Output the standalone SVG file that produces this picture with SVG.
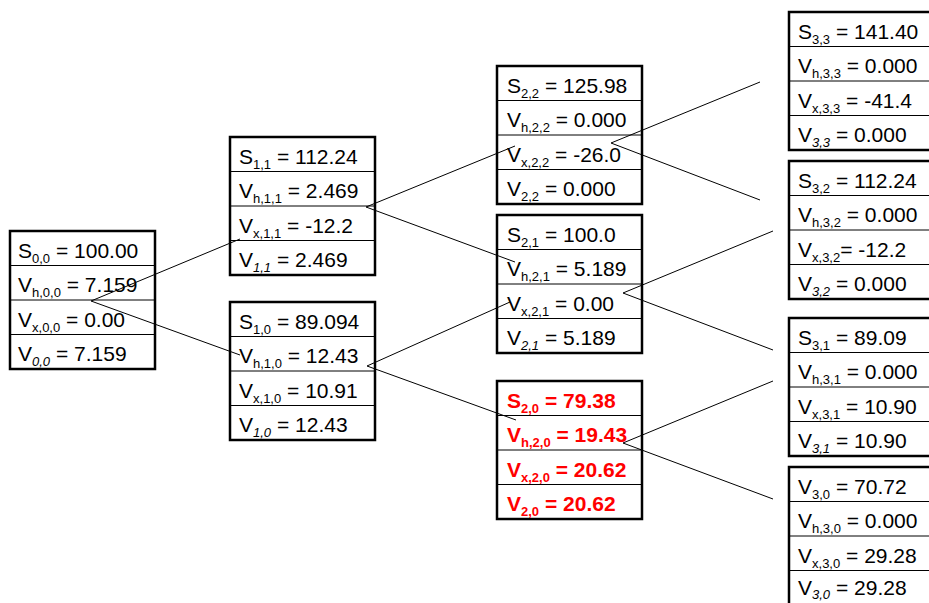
<svg xmlns="http://www.w3.org/2000/svg" width="929" height="603" viewBox="0 0 929 603">
<style>
.box{fill:#fff;stroke:#000;stroke-width:2.5}
.row{stroke:#000;stroke-width:1}
.t{font-family:"Liberation Sans",Arial,Helvetica,sans-serif;font-size:21px;fill:#000}
.r{fill:#ff0000;font-weight:bold}
.s{font-size:13px}
.i{font-style:italic}
.c line{stroke:#000;stroke-width:1}
</style>
<rect width="929" height="603" fill="#fff"/>
<defs>
<g id="frame">
<rect class="box" x="0" y="0" width="145" height="138"/>
<line class="row" x1="0" y1="34.5" x2="145" y2="34.5"/>
<line class="row" x1="0" y1="69" x2="145" y2="69"/>
<line class="row" x1="0" y1="103.5" x2="145" y2="103.5"/>
</g>
<g id="frameR">
<rect class="box" x="0" y="0" width="160" height="138"/>
<line class="row" x1="0" y1="34.5" x2="160" y2="34.5"/>
<line class="row" x1="0" y1="69" x2="160" y2="69"/>
<line class="row" x1="0" y1="103.5" x2="160" y2="103.5"/>
</g>
</defs>

<g id="n00" transform="translate(10,231)">
<use href="#frame"/>
<text class="t" x="8" y="26.5">S<tspan class="s" dy="5">0,0</tspan><tspan dy="-5"> = 100.00</tspan></text>
<text class="t" x="8" y="61">V<tspan class="s" dy="5">h,0,0</tspan><tspan dy="-5"> = 7.159</tspan></text>
<text class="t" x="8" y="95.5">V<tspan class="s" dy="5">x,0,0</tspan><tspan dy="-5"> = 0.00</tspan></text>
<text class="t" x="8" y="130">V<tspan class="s i" dy="5">0,0</tspan><tspan dy="-5"> = 7.159</tspan></text>
</g>

<g id="n11" transform="translate(230,137)">
<use href="#frame"/>
<text class="t" x="9" y="26.5">S<tspan class="s" dy="5">1,1</tspan><tspan dy="-5"> = 112.24</tspan></text>
<text class="t" x="9" y="61">V<tspan class="s" dy="5">h,1,1</tspan><tspan dy="-5"> = 2.469</tspan></text>
<text class="t" x="9" y="95.5">V<tspan class="s" dy="5">x,1,1</tspan><tspan dy="-5"> = -12.2</tspan></text>
<text class="t" x="9" y="130">V<tspan class="s i" dy="5">1,1</tspan><tspan dy="-5"> = 2.469</tspan></text>
</g>

<g id="n10" transform="translate(230,302)">
<use href="#frame"/>
<text class="t" x="9" y="26.5">S<tspan class="s" dy="5">1,0</tspan><tspan dy="-5"> = 89.094</tspan></text>
<text class="t" x="9" y="61">V<tspan class="s" dy="5">h,1,0</tspan><tspan dy="-5"> = 12.43</tspan></text>
<text class="t" x="9" y="95.5">V<tspan class="s" dy="5">x,1,0</tspan><tspan dy="-5"> = 10.91</tspan></text>
<text class="t" x="9" y="130">V<tspan class="s i" dy="5">1,0</tspan><tspan dy="-5"> = 12.43</tspan></text>
</g>

<g id="n22" transform="translate(497,66)">
<use href="#frame"/>
<text class="t" x="10" y="26.5">S<tspan class="s" dy="5">2,2</tspan><tspan dy="-5"> = 125.98</tspan></text>
<text class="t" x="10" y="61">V<tspan class="s" dy="5">h,2,2</tspan><tspan dy="-5"> = 0.000</tspan></text>
<text class="t" x="10" y="95.5">V<tspan class="s" dy="5">x,2,2</tspan><tspan dy="-5"> = -26.0</tspan></text>
<text class="t" x="10" y="130">V<tspan class="s" dy="5">2,2</tspan><tspan dy="-5"> = 0.000</tspan></text>
</g>

<g id="n21" transform="translate(497,215)">
<use href="#frame"/>
<text class="t" x="10" y="26.5">S<tspan class="s" dy="5">2,1</tspan><tspan dy="-5"> = 100.0</tspan></text>
<text class="t" x="10" y="61">V<tspan class="s" dy="5">h,2,1</tspan><tspan dy="-5"> = 5.189</tspan></text>
<text class="t" x="10" y="95.5">V<tspan class="s" dy="5">x,2,1</tspan><tspan dy="-5"> = 0.00</tspan></text>
<text class="t" x="10" y="130">V<tspan class="s i" dy="5">2,1</tspan><tspan dy="-5"> = 5.189</tspan></text>
</g>

<g id="n20" transform="translate(497,381)">
<use href="#frame"/>
<text class="t r" x="10" y="26.5">S<tspan class="s" dy="5">2,0</tspan><tspan dy="-5"> = 79.38</tspan></text>
<text class="t r" x="10" y="61">V<tspan class="s" dy="5">h,2,0</tspan><tspan dy="-5"> = 19.43</tspan></text>
<text class="t r" x="10" y="95.5">V<tspan class="s" dy="5">x,2,0</tspan><tspan dy="-5"> = 20.62</tspan></text>
<text class="t r" x="10" y="130">V<tspan class="s" dy="5">2,0</tspan><tspan dy="-5"> = 20.62</tspan></text>
</g>

<g id="n33" transform="translate(789,12)">
<use href="#frameR"/>
<text class="t" x="9" y="26.5">S<tspan class="s" dy="5">3,3</tspan><tspan dy="-5"> = 141.40</tspan></text>
<text class="t" x="9" y="61">V<tspan class="s" dy="5">h,3,3</tspan><tspan dy="-5"> = 0.000</tspan></text>
<text class="t" x="9" y="95.5">V<tspan class="s" dy="5">x,3,3</tspan><tspan dy="-5"> = -41.4</tspan></text>
<text class="t" x="9" y="130">V<tspan class="s i" dy="5">3,3</tspan><tspan dy="-5"> = 0.000</tspan></text>
</g>

<g id="n32" transform="translate(789,161)">
<use href="#frameR"/>
<text class="t" x="9" y="26.5">S<tspan class="s" dy="5">3,2</tspan><tspan dy="-5"> = 112.24</tspan></text>
<text class="t" x="9" y="61">V<tspan class="s" dy="5">h,3,2</tspan><tspan dy="-5"> = 0.000</tspan></text>
<text class="t" x="9" y="95.5">V<tspan class="s" dy="5">x,3,2</tspan><tspan dy="-5">= -12.2</tspan></text>
<text class="t" x="9" y="130">V<tspan class="s i" dy="5">3,2</tspan><tspan dy="-5"> = 0.000</tspan></text>
</g>

<g id="n31" transform="translate(789,318)">
<use href="#frameR"/>
<text class="t" x="9" y="26.5">S<tspan class="s" dy="5">3,1</tspan><tspan dy="-5"> = 89.09</tspan></text>
<text class="t" x="9" y="61">V<tspan class="s" dy="5">h,3,1</tspan><tspan dy="-5"> = 0.000</tspan></text>
<text class="t" x="9" y="95.5">V<tspan class="s" dy="5">x,3,1</tspan><tspan dy="-5"> = 10.90</tspan></text>
<text class="t" x="9" y="130">V<tspan class="s i" dy="5">3,1</tspan><tspan dy="-5"> = 10.90</tspan></text>
</g>

<g id="n30" transform="translate(789,467)">
<use href="#frameR"/>
<text class="t" x="9" y="26.5">V<tspan class="s" dy="5">3,0</tspan><tspan dy="-5"> = 70.72</tspan></text>
<text class="t" x="9" y="61">V<tspan class="s" dy="5">h,3,0</tspan><tspan dy="-5"> = 0.000</tspan></text>
<text class="t" x="9" y="95.5">V<tspan class="s" dy="5">x,3,0</tspan><tspan dy="-5"> = 29.28</tspan></text>
<text class="t" x="9" y="127.5">V<tspan class="s i" dy="4">3,0</tspan><tspan dy="-4"> = 29.28</tspan></text>
</g>

<g id="connectors" class="c">
<line x1="91" y1="301" x2="240" y2="239"/>
<line x1="91" y1="301" x2="240" y2="355"/>
<line x1="366" y1="207" x2="515" y2="146"/>
<line x1="366" y1="207" x2="515" y2="262"/>
<line x1="367" y1="366" x2="510" y2="302"/>
<line x1="367" y1="366" x2="516" y2="420"/>
<line x1="611" y1="143" x2="760" y2="82"/>
<line x1="611" y1="143" x2="760" y2="200"/>
<line x1="623" y1="293" x2="773" y2="231"/>
<line x1="623" y1="293" x2="773" y2="350"/>
<line x1="623" y1="443" x2="773" y2="381"/>
<line x1="623" y1="443" x2="773" y2="499"/>
</g>
</svg>
